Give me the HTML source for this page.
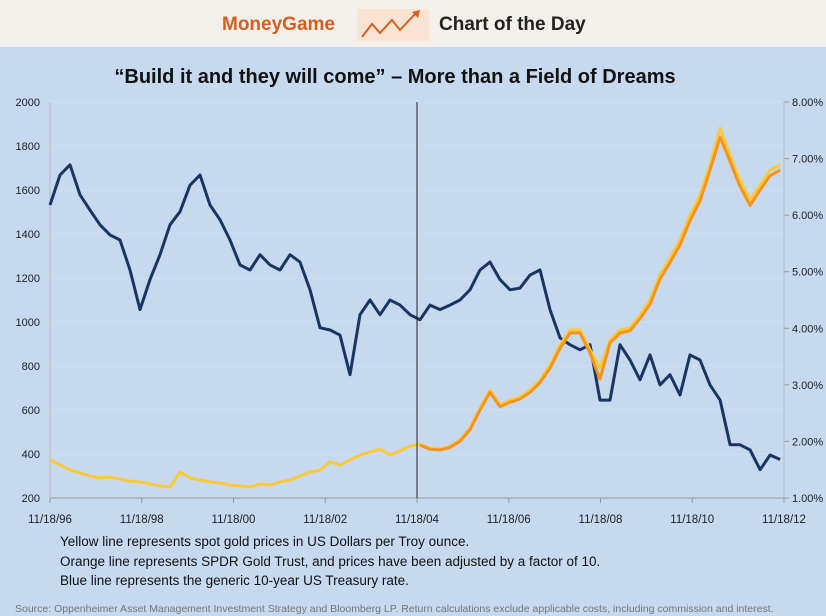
<!DOCTYPE html>
<html><head><meta charset="utf-8"><style>
html,body{margin:0;padding:0;width:826px;height:616px;overflow:hidden;background:#c6d9ef;font-family:"Liberation Sans",sans-serif}
</style></head><body>
<svg id="chart" width="826" height="616" xmlns="http://www.w3.org/2000/svg">
<rect x="0" y="0" width="826" height="616" fill="#c6d9ef"/>
<rect x="0" y="0" width="826" height="47" fill="#f3f0eb"/>
<text x="222" y="30" font-size="19" font-weight="bold" fill="#d45f1e">MoneyGame</text>
<g>
<rect x="357" y="9" width="72" height="32" fill="#fbe3d3"/>
<polyline points="362,37 372,24 380,33 392,20 400,30 416,13" fill="none" stroke="#d45f1e" stroke-width="2"/>
<polygon points="412,12 420,10 418,18" fill="#d45f1e"/>
</g>
<text x="439" y="30" font-size="19" font-weight="bold" fill="#222">Chart of the Day</text>
<text x="395" y="83" font-size="20" font-weight="bold" text-anchor="middle" fill="#111">“Build it and they will come” – More than a Field of Dreams</text>
<g id="grid"></g>
<g id="axes"></g>
<g id="series"></g>
<text x="60" y="546" font-size="13.5" fill="#111">Yellow line represents spot gold prices in US Dollars per Troy ounce.</text>
<text x="60" y="566" font-size="13.5" fill="#111">Orange line represents SPDR Gold Trust, and prices have been adjusted by a factor of 10.</text>
<text x="60" y="585" font-size="13.5" fill="#111">Blue line represents the generic 10-year US Treasury rate.</text>
<text x="15" y="612" font-size="10.5" fill="#777">Source: Oppenheimer Asset Management Investment Strategy and Bloomberg LP. Return calculations exclude applicable costs, including commission and interest.</text>
</svg>
<script>
const startYear = 1996.88;
const stepYears = 0.218;
const goldSpot = [373,350,327,314,300,291,295,286,277,273,264,255,250,318,291,282,273,268,259,255,250,264,259,273,282,300,318,327,364,350,373,395,409,423,395,414,436,445,427,423,436,464,518,610,690,623,645,659,691,736,805,895,964,964,873,791,918,964,973,1032,1100,1214,1291,1373,1486,1577,1714,1882,1759,1645,1555,1623,1691,1714];
const spdrStartIndex = 37;
const spdrGold = [440,422,418,430,458,510,600,680,615,635,650,680,725,790,880,950,950,860,740,905,950,960,1015,1080,1195,1270,1350,1460,1550,1690,1840,1730,1615,1530,1600,1665,1690];
const treasury = [6.18,6.71,6.89,6.36,6.09,5.83,5.65,5.56,5.03,4.33,4.86,5.30,5.83,6.06,6.53,6.71,6.18,5.92,5.56,5.12,5.03,5.30,5.12,5.03,5.30,5.17,4.68,4.01,3.97,3.88,3.18,4.24,4.50,4.24,4.50,4.41,4.24,4.15,4.41,4.33,4.41,4.50,4.68,5.03,5.17,4.86,4.68,4.71,4.94,5.03,4.33,3.83,3.71,3.62,3.71,2.73,2.73,3.71,3.44,3.09,3.53,3.00,3.18,2.82,3.53,3.44,3.00,2.73,1.94,1.94,1.85,1.50,1.76,1.68];
const leftTicks = [200,400,600,800,1000,1200,1400,1600,1800,2000];
const rightTicks = [1,2,3,4,5,6,7,8];
const rightTickLabels = ["1.00%","2.00%","3.00%","4.00%","5.00%","6.00%","7.00%","8.00%"];
const xTickYears = [1996.88,1998.88,2000.88,2002.88,2004.88,2006.88,2008.88,2010.88,2012.88];
const xTickLabels = ["11/18/96","11/18/98","11/18/00","11/18/02","11/18/04","11/18/06","11/18/08","11/18/10","11/18/12"];
const markerYear = 2004.88;

const X0=50,X1=784,Y0=498,Y1=102;
const xs = y => X0 + (y-1996.88)/16*(X1-X0);
const yl = v => Y0 - (v-200)/1800*(Y0-Y1);
const yr = p => Y0 - (p-1)/7*(Y0-Y1);
const NS="http://www.w3.org/2000/svg";
function mk(tag,parent){const e=document.createElementNS(NS,tag);document.getElementById(parent).appendChild(e);return e;}

leftTicks.forEach((v,i)=>{
  const g=mk('line','grid');
  
  
  g.setAttribute('x1',X0);g.setAttribute('x2',X1);g.setAttribute('y1',yl(v));g.setAttribute('y2',yl(v));
  g.setAttribute('stroke', v===200?'#999':'#cfdef1');g.setAttribute('stroke-width','1');
  const t=mk('text','axes');
  
  
  t.setAttribute('x',40);t.setAttribute('y',yl(v)+4);t.setAttribute('text-anchor','end');t.setAttribute('font-size','11');t.setAttribute('fill','#222');
  t.textContent=v;
});
rightTicks.forEach((p,i)=>{
  const t=mk('text','axes');
  
  
  t.setAttribute('x',792);t.setAttribute('y',yr(p)+4);t.setAttribute('font-size','11');t.setAttribute('fill','#222');
  t.textContent=rightTickLabels[i];
  const k=mk('line','axes');
  
  
  k.setAttribute('x1',X1);k.setAttribute('x2',X1+5);k.setAttribute('y1',yr(p));k.setAttribute('y2',yr(p));k.setAttribute('stroke','#999');
});
xTickYears.forEach((yv,i)=>{
  const t=mk('text','axes');
  
  
  t.setAttribute('x',xs(yv));t.setAttribute('y',523);t.setAttribute('text-anchor','middle');t.setAttribute('font-size','11.5');t.setAttribute('fill','#222');
  t.textContent=xTickLabels[i];
  const k=mk('line','axes');
  
  
  k.setAttribute('x1',xs(yv));k.setAttribute('x2',xs(yv));k.setAttribute('y1',Y0);k.setAttribute('y2',Y0+5);k.setAttribute('stroke','#999');
});
const la=mk('line','axes');


la.setAttribute('x1',X0);la.setAttribute('x2',X0);la.setAttribute('y1',Y1);la.setAttribute('y2',Y0);la.setAttribute('stroke','#bbb');
const ra=mk('line','axes');


ra.setAttribute('x1',X1);ra.setAttribute('x2',X1);ra.setAttribute('y1',Y1);ra.setAttribute('y2',Y0);ra.setAttribute('stroke','#bbb');

function poly(vals,offset,yf,color,w,name){
  const pts=vals.map((v,i)=>xs(startYear+(i+offset)*stepYears).toFixed(1)+','+yf(v).toFixed(1)).join(' ');
  const p=mk('polyline','series');
  
  
  p.setAttribute('points',pts);p.setAttribute('fill','none');p.setAttribute('stroke',color);p.setAttribute('stroke-width',w);p.setAttribute('stroke-linejoin','round');
}
poly(treasury,0,yr,'#1b3563',3,'treasury-line');
poly(goldSpot,0,yl,'#fcc93a',3,'gold-spot-line');
poly(spdrGold,spdrStartIndex,yl,'#f7941d',3,'spdr-gold-line');
const mv=mk('line','series');


mv.setAttribute('x1',xs(markerYear));mv.setAttribute('x2',xs(markerYear));mv.setAttribute('y1',Y1);mv.setAttribute('y2',Y0);mv.setAttribute('stroke','#222');mv.setAttribute('stroke-width','1');
</script>
</body></html>
